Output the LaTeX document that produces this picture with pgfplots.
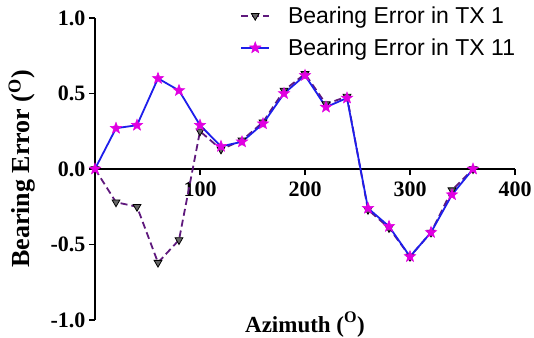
\documentclass[border=0pt]{standalone}
\usepackage{fontspec}
\setmainfont{Liberation Serif}
\newfontfamily\legfont{Liberation Sans}
\usepackage{pgfplots}
\pgfplotsset{compat=1.18}
\usetikzlibrary{calc}
\definecolor{dpurple}{RGB}{95,25,125}
\definecolor{lblue}{RGB}{30,30,235}
\definecolor{mag}{RGB}{225,0,225}
\pgfdeclareplotmark{fstar}{%
  \pgfpathmoveto{\pgfpointpolar{90}{\pgfplotmarksize}}%
  \pgfpathlineto{\pgfpointpolar{126}{0.42\pgfplotmarksize}}%
  \pgfpathlineto{\pgfpointpolar{162}{\pgfplotmarksize}}%
  \pgfpathlineto{\pgfpointpolar{198}{0.42\pgfplotmarksize}}%
  \pgfpathlineto{\pgfpointpolar{234}{\pgfplotmarksize}}%
  \pgfpathlineto{\pgfpointpolar{270}{0.42\pgfplotmarksize}}%
  \pgfpathlineto{\pgfpointpolar{306}{\pgfplotmarksize}}%
  \pgfpathlineto{\pgfpointpolar{342}{0.42\pgfplotmarksize}}%
  \pgfpathlineto{\pgfpointpolar{18}{\pgfplotmarksize}}%
  \pgfpathlineto{\pgfpointpolar{54}{0.42\pgfplotmarksize}}%
  \pgfpathclose
  \pgfusepathqfillstroke}
\begin{document}
\begin{tikzpicture}
\begin{axis}[name=ax,
  scale only axis, width=420pt, height=302pt,
  xmin=0, xmax=400, ymin=-1, ymax=1,
  axis x line=middle, axis y line=left,
  axis line style={-, line width=1.6pt, black},
  tick align=outside,
  major tick length=6pt,
  every tick/.style={line width=1.6pt, black},
  xtick={100,200,300,400},
  ytick={-1,-0.5,0,0.5,1},
  xticklabel style={font=\fontsize{22}{24}\selectfont\bfseries, yshift=-3pt},
  yticklabel style={font=\fontsize{22}{24}\selectfont\bfseries,
    /pgf/number format/fixed, /pgf/number format/fixed zerofill,
    /pgf/number format/precision=1},
  /pgf/number format/assume math mode=true,
  every axis x label/.style={at={(axis description cs:0.5,0)}, anchor=base, yshift=-12pt,
    font=\fontsize{23}{25}\selectfont\bfseries},
  every axis y label/.style={at={(axis description cs:-0.174,0.5)}, rotate=90, anchor=center,
    font=\fontsize{26}{28}\selectfont\bfseries},
  xlabel={Azimuth (\textsuperscript{O})},
  ylabel={Bearing Error (\textsuperscript{O})},
  legend style={at={(axis description cs:0.345,1.045)}, anchor=north west, draw=none, fill=none,
    font=\fontsize{23}{25}\selectfont\legfont, row sep=10pt, inner sep=0pt},
  legend cell align=left,
  legend image code/.code={\draw[mark repeat=2,mark phase=2] plot coordinates {(0cm,0cm)(0.5cm,0cm)(1cm,0cm)};
    \path (1.55cm,0);},
  clip=false,
]
\addplot[dpurple, line width=1.8pt, dash pattern=on 7pt off 4pt,
  mark=triangle*, mark size=4.5pt, mark options={rotate=180, solid, fill=black!60, draw=black, line width=0.8pt}]
coordinates {
(0,0) (20,-0.22) (40,-0.25) (60,-0.62) (80,-0.47) (100,0.25) (120,0.13) (140,0.19) (160,0.31)
(180,0.52) (200,0.63) (220,0.43) (240,0.48) (260,-0.27) (280,-0.39) (300,-0.58) (320,-0.42) (340,-0.14) (360,0.0)
};
\addlegendentry{Bearing Error in TX 1}
\addplot[lblue, line width=1.8pt,
  mark=fstar, mark size=6pt, mark options={mag, line width=0.5pt}]
coordinates {
(0,0) (20,0.27) (40,0.29) (60,0.60) (80,0.52) (100,0.29) (120,0.15) (140,0.18) (160,0.30)
(180,0.50) (200,0.62) (220,0.41) (240,0.47) (260,-0.26) (280,-0.38) (300,-0.58) (320,-0.42) (340,-0.17) (360,0.0)
};
\addlegendentry{Bearing Error in TX 11}
\end{axis}
\pgfresetboundingbox
\path[use as bounding box] ($(ax.south west)+(-95pt,-17pt)$) rectangle ($(ax.north east)+(19pt,18pt)$);
\end{tikzpicture}
\end{document}
